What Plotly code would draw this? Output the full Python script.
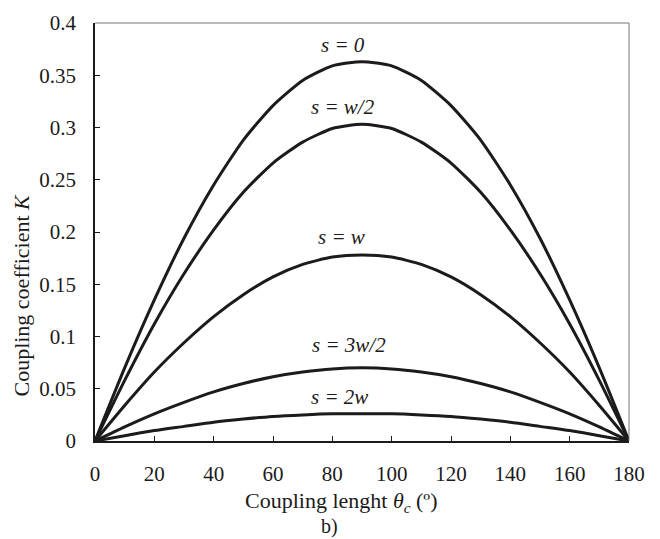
import plotly.graph_objects as go

theta = [0, 10, 20, 30, 40, 50, 60, 70, 80, 90, 100, 110, 120, 130, 140, 150, 160, 170, 180]

k_s0 = [0, 0.070, 0.135, 0.194, 0.245, 0.288, 0.321, 0.345, 0.359, 0.363, 0.359, 0.345, 0.321, 0.288, 0.245, 0.194, 0.135, 0.070, 0]
k_sw2 = [0, 0.058, 0.112, 0.160, 0.202, 0.238, 0.266, 0.286, 0.299, 0.303, 0.299, 0.286, 0.266, 0.238, 0.202, 0.160, 0.112, 0.058, 0]
k_sw = [0, 0.034, 0.066, 0.094, 0.119, 0.140, 0.157, 0.169, 0.176, 0.178, 0.176, 0.169, 0.157, 0.140, 0.119, 0.094, 0.066, 0.034, 0]
k_s3w2 = [0, 0.0135, 0.026, 0.037, 0.047, 0.055, 0.0615, 0.066, 0.069, 0.070, 0.069, 0.066, 0.0615, 0.055, 0.047, 0.037, 0.026, 0.0135, 0]
k_s2w = [0, 0.005, 0.010, 0.014, 0.018, 0.021, 0.0235, 0.025, 0.026, 0.026, 0.026, 0.025, 0.0235, 0.021, 0.018, 0.014, 0.010, 0.005, 0]

series = [k_s0, k_sw2, k_sw, k_s3w2, k_s2w]

label_text = ["s = 0", "s = w/2", "s = w", "s = 3w/2", "s = 2w"]
label_x = [83.5, 83.5, 83, 85.5, 82.5]
label_y = [0.379, 0.320, 0.195, 0.092, 0.042]

x_ticks = [0, 20, 40, 60, 80, 100, 120, 140, 160, 180]
y_ticks = [0, 0.05, 0.1, 0.15, 0.2, 0.25, 0.3, 0.35, 0.4]
y_tick_text = ["0", "0.05", "0.1", "0.15", "0.2", "0.25", "0.3", "0.35", "0.4"]

FONT = "Liberation Serif"
INK = "#1c1a1a"
FS = 21

fig = go.Figure()
for ys in series:
    fig.add_trace(go.Scatter(x=theta, y=ys, mode="lines",
                             line=dict(color=INK, width=3, shape="spline", smoothing=0.6),
                             showlegend=False, hoverinfo="skip"))

for t, x, y in zip(label_text, label_x, label_y):
    fig.add_annotation(x=x, y=y, text="<i>" + t + "</i>", showarrow=False,
                       font=dict(family=FONT, size=FS, color=INK))

# gray frame on top and right
fig.add_shape(type="line", xref="paper", yref="paper", x0=0, x1=1, y0=1, y1=1,
              line=dict(color="#777777", width=1))
fig.add_shape(type="line", xref="paper", yref="paper", x0=1, x1=1, y0=0, y1=1,
              line=dict(color="#777777", width=1))

# axis titles and panel tag
fig.add_annotation(xref="paper", yref="paper", x=0.461, y=-0.146, yanchor="middle",
                   text="Coupling lenght <i>θ<sub>c</sub></i> (º)", showarrow=False,
                   font=dict(family=FONT, size=22, color=INK))
fig.add_annotation(xref="paper", yref="paper", x=-0.137, y=0.35, xanchor="center",
                   yanchor="middle", textangle=-90,
                   text="Coupling coefficient <i>K</i>", showarrow=False,
                   font=dict(family=FONT, size=22, color=INK))
fig.add_annotation(xref="paper", yref="paper", x=0.44, y=-0.205, yanchor="middle",
                   text="b)", showarrow=False, font=dict(family=FONT, size=20, color=INK))

fig.update_xaxes(range=[0, 180], tickvals=x_ticks, ticks="inside", ticklen=5,
                 tickcolor=INK, showline=True, linecolor=INK, linewidth=1.5,
                 showgrid=False, zeroline=False, ticklabelstandoff=13,
                 ticklabeloverflow="allow",
                 tickfont=dict(family=FONT, size=FS, color=INK))
fig.update_yaxes(range=[0, 0.4], tickvals=y_ticks, ticktext=y_tick_text, ticks="inside",
                 ticklen=5, tickcolor=INK, showline=True, linecolor=INK, linewidth=1.5,
                 showgrid=False, zeroline=False, ticklabelstandoff=13,
                 ticklabeloverflow="allow",
                 tickfont=dict(family=FONT, size=FS, color=INK))

fig.update_layout(width=660, height=539, margin=dict(l=95, r=31, t=11, b=98),
                  paper_bgcolor="white", plot_bgcolor="white")

fig.write_html("out.html")
